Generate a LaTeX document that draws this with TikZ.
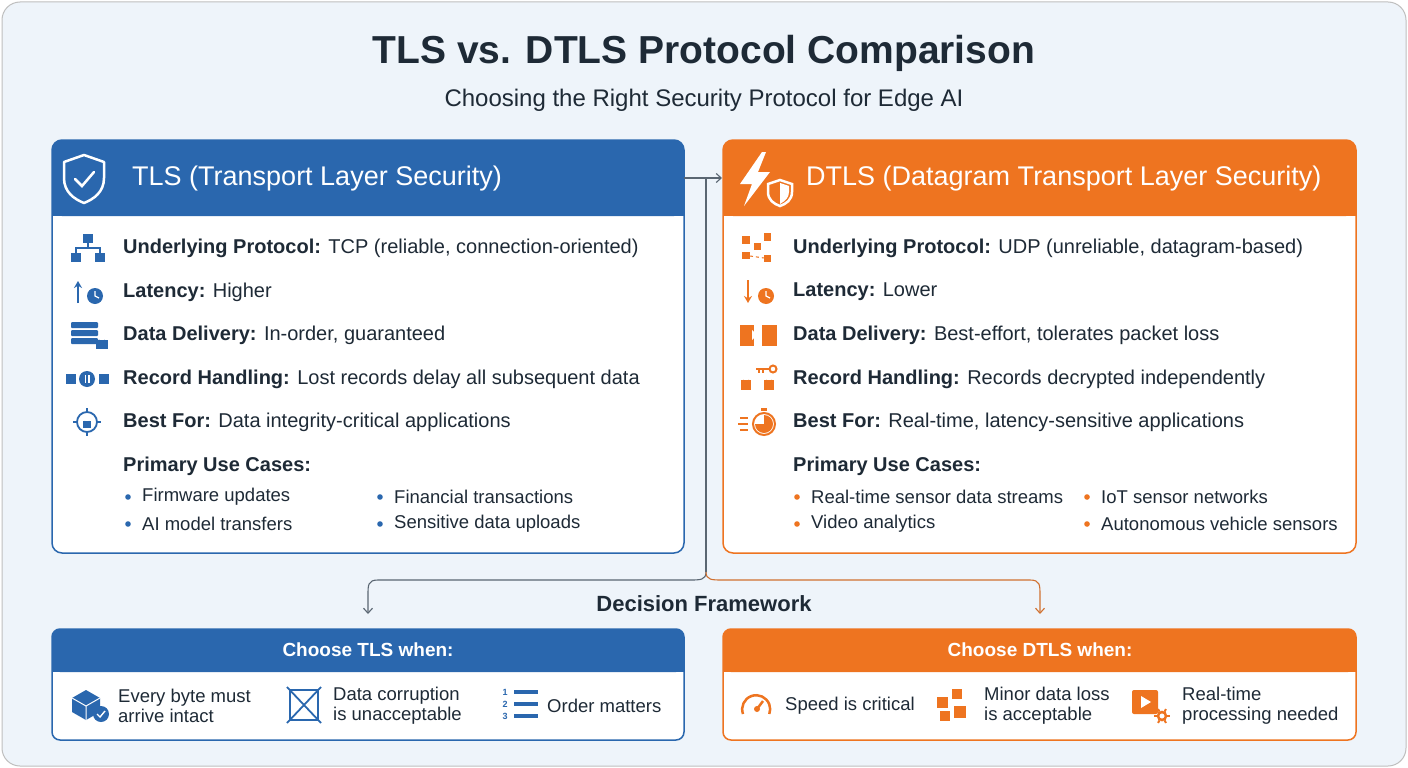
\documentclass[tikz,border=0pt]{standalone}
\usepackage{fontspec}
\setmainfont{Liberation Sans}
\usetikzlibrary{arrows.meta}
\definecolor{tb}{HTML}{2A67AE}
\definecolor{dor}{HTML}{EE7420}
\definecolor{bg}{HTML}{EEF4FA}
\definecolor{ink}{HTML}{1E2A36}
\definecolor{ln}{HTML}{5A6672}
\begin{document}
\begin{tikzpicture}[x=1pt,y=-1pt,
  txt/.style={anchor=west,inner sep=0,text=ink,font=\fontsize{20}{23}\selectfont},
  bul/.style={anchor=west,inner sep=0,text=ink,font=\fontsize{18.5}{21}\selectfont},
  two/.style={anchor=west,inner sep=0,text=ink,align=left,font=\fontsize{18.5}{20}\selectfont},
  hd/.style={anchor=west,inner sep=0,text=white,font=\fontsize{27}{30}\selectfont},
  sh/.style={anchor=center,inner sep=0,text=white,font=\bfseries\fontsize{19}{22}\selectfont},
  ib/.style={fill=tb,draw=none},
  io/.style={fill=dor,draw=none},
  arr/.style={draw=ln,line width=1.1pt,-{Straight Barb[length=5pt,width=9pt]}}]
\useasboundingbox (0,0) rectangle (1408,768);
\fill[white] (0,0) rectangle (1408,768);
\draw[fill=bg,draw=gray!50,line width=1pt,rounded corners=18] (2,2) rectangle (1406,766);
\node[inner sep=0,text=ink,font=\bfseries\fontsize{39}{42}\selectfont] (title) at (704,53) {TLS vs. DTLS Protocol Comparison};
\node[inner sep=0,text=ink,font=\fontsize{24}{28}\selectfont] (sub) at (704,100) {Choosing the Right Security Protocol for Edge AI};
% boxes
\draw[fill=white,draw=tb,line width=1.5pt,rounded corners=10] (52,140) rectangle (684,553);
\fill[tb,rounded corners=10] (52,140) rectangle (684,216);
\fill[tb] (52,200) rectangle (684,216);
\draw[fill=white,draw=dor,line width=1.5pt,rounded corners=10] (723,140) rectangle (1356,553);
\fill[dor,rounded corners=10] (723,140) rectangle (1356,216);
\fill[dor] (723,200) rectangle (1356,216);
\node[hd] (th) at (132,179) {TLS (Transport Layer Security)};
\node[hd] (dh) at (806,179) {DTLS (Datagram Transport Layer Security)};
% shield icon
\draw[white,line width=2.5pt,line join=round] (84,155) -- (104,162) -- (104,178) .. controls (104,192) and (94,199) .. (84,203) .. controls (74,199) and (64,192) .. (64,178) -- (64,162) -- cycle;
\draw[white,line width=2.5pt,line cap=round] (75,179) -- (82,186) -- (94,172);
% lightning + shield
\fill[white] (762,152) -- (740,184) -- (752,184) -- (744,206) -- (770,172) -- (758,172) -- (766,152) -- cycle;
\draw[white,line width=2.5pt] (780,180) -- (792,184) -- (792,192) .. controls (792,200) and (786,204) .. (780,206) .. controls (774,204) and (768,200) .. (768,192) -- (768,184) -- cycle;
\fill[white] (780,183) -- (780,204) .. controls (785,201) and (789,198) .. (789,192) -- (789,186) -- cycle;
% TLS rows
\node[txt] (t1) at (123,248) {\textbf{Underlying Protocol:} TCP (reliable, connection-oriented)};
\node[txt] (t2) at (123,292) {\textbf{Latency:} Higher};
\node[txt] (t3) at (123,335) {\textbf{Data Delivery:} In-order, guaranteed};
\node[txt] (t4) at (123,379) {\textbf{Record Handling:} Lost records delay all subsequent data};
\node[txt] (t5) at (123,422) {\textbf{Best For:} Data integrity-critical applications};
\node[txt] (t6) at (123,466) {\textbf{Primary Use Cases:}};
\foreach \x/\y/\s in {128/497/Firmware updates,128/524/AI model transfers,380/497/Financial transactions,380/524/Sensitive data uploads}{
  \fill[tb] (\x,\y) circle (2.8);
  \node[bul] at (\x+14,\y) {\s};}
% TLS icons
\fill[ib] (83,234) rectangle (93,243); \fill[ib] (71,253) rectangle (81,262); \fill[ib] (95,253) rectangle (105,262);
\draw[tb,line width=1.5pt] (88,243) -- (88,248) (76,253) -- (76,248) -- (100,248) -- (100,253);
\draw[tb,line width=1.8pt,-{Stealth[length=7pt,width=8pt]}] (78,303) -- (78,281);
\fill[ib] (95,296) circle (8); \draw[white,line width=1.2pt] (95,291) -- (95,296) -- (99,298);
\foreach \yy in {322,330,338}{\fill[ib,rounded corners=1] (71,\yy) rectangle (98,\yy+6);}
\fill[ib] (96,340) rectangle (108,349); \draw[tb,line width=1.5pt] (99,340) arc (180:0:3);
\fill[ib] (66,374) rectangle (76,384); \fill[ib] (99,374) rectangle (109,384); \fill[ib] (87,379) circle (8);
\fill[white] (84.5,375) rectangle (86,383); \fill[white] (88,375) rectangle (89.5,383);
\draw[tb,line width=1.8pt] (87,422) circle (10); \draw[tb,line width=1.8pt] (87,408)--(87,413) (87,431)--(87,436) (73,422)--(78,422) (96,422)--(101,422);
\fill[ib] (83,421) rectangle (91,428); \draw[tb,line width=1.2pt] (84.5,421) arc (180:0:2.5);
% DTLS rows
\node[txt] (d1) at (793,248) {\textbf{Underlying Protocol:} UDP (unreliable, datagram-based)};
\node[txt] (d2) at (793,292) {\textbf{Latency:} Lower};
\node[txt] (d3) at (793,335) {\textbf{Data Delivery:} Best-effort, tolerates packet loss};
\node[txt] (d4) at (793,379) {\textbf{Record Handling:} Records decrypted independently};
\node[txt] (d5) at (793,422) {\textbf{Best For:} Real-time, latency-sensitive applications};
\node[txt] (d6) at (793,466) {\textbf{Primary Use Cases:}};
\foreach \x/\y/\s in {797/497/Real-time sensor data streams,797/524/Video analytics,1087/497/IoT sensor networks,1087/524/Autonomous vehicle sensors}{
  \fill[dor] (\x,\y) circle (2.8);
  \node[bul] at (\x+14,\y) {\s};}
% DTLS icons
\fill[io] (742,236) rectangle (750,244); \fill[io] (764,233) rectangle (771,241); \fill[io] (754,243) rectangle (761,250);
\fill[io] (742,252) rectangle (750,259); \fill[io] (764,255) rectangle (771,262);
\draw[dor,line width=1pt,dashed] (750,256) -- (764,258);
\draw[dor,line width=1.8pt,-{Stealth[length=7pt,width=8pt]}] (748,280) -- (748,303);
\fill[io] (766,296) circle (8); \draw[white,line width=1.2pt] (766,291) -- (766,296) -- (770,298);
\fill[io] (740,325) rectangle (754,346); \fill[io] (762,325) rectangle (777,346);
\fill[white] (752,330) -- (757,335) -- (752,340) -- cycle;
\fill[io] (741,380) rectangle (751,390); \draw[dor,line width=1.5pt] (743,380) arc (180:0:3);
\fill[io] (764,380) rectangle (774,390); \draw[dor,line width=1.5pt] (766,380) arc (180:0:3);
\draw[dor,line width=2pt] (773,369) circle (3.5); \draw[dor,line width=2pt] (769,369) -- (756,369) (759,369)--(759,373) (763,369)--(763,373);
\draw[dor,line width=2pt] (764,424) circle (11); \fill[io] (764,424) -- (764,415) arc (-90:180:9) -- cycle;
\fill[io] (761,408) rectangle (767,411);
\draw[dor,line width=1.5pt] (740,418)--(748,418) (738,424)--(748,424) (740,430)--(748,430);
% connectors
\coordinate (hubT) at (706,178);
\coordinate (hubB) at (706,572);
\draw[arr] (684,178) -- (722,178);
\draw[ln,line width=1.1pt] (hubT) -- (hubB);
\draw[arr] (hubB) .. controls (706,580) and (700,580) .. (690,580) -- (378,580) .. controls (368,580) and (368,585) .. (368,595) -- (368,614);
\draw[draw=dor!80!ln,line width=1.1pt,-{Straight Barb[length=5pt,width=9pt]}] (hubB) .. controls (706,580) and (712,580) .. (722,580) -- (1030,580) .. controls (1040,580) and (1040,585) .. (1040,595) -- (1040,614);
\node[inner sep=0,text=ink,font=\bfseries\fontsize{22}{26}\selectfont] (df) at (704,604) {Decision Framework};
% bottom boxes
\draw[fill=white,draw=tb,line width=1.5pt,rounded corners=8] (52,629) rectangle (684,740);
\fill[tb,rounded corners=8] (52,629) rectangle (684,672); \fill[tb] (52,662) rectangle (684,672);
\draw[fill=white,draw=dor,line width=1.5pt,rounded corners=8] (723,629) rectangle (1356,740);
\fill[dor,rounded corners=8] (723,629) rectangle (1356,672); \fill[dor] (723,662) rectangle (1356,672);
\node[sh] (ct) at (368,650) {Choose TLS when:};
\node[sh] (cd) at (1040,650) {Choose DTLS when:};
\node[two] (b1) at (118,706) {Every byte must\\arrive intact};
\node[two] (b2) at (333,706) {Data corruption\\is unacceptable};
\node[two] (b3) at (547,706) {Order matters};
\node[two] (b4) at (785,706) {Speed is critical};
\node[two] (b5) at (984,706) {Minor data loss\\is acceptable};
\node[two] (b6) at (1182,706) {Real-time\\processing needed};
% bottom icons
\fill[ib] (72,698) -- (86,690) -- (100,698) -- (100,712) -- (86,720) -- (72,712) -- cycle;
\draw[white,line width=1pt] (72,698) -- (86,706) -- (100,698) (86,706) -- (86,720);
\fill[ib] (101,714) circle (8); \draw[white,line width=1.4pt] (97,714) -- (100,717) -- (105,711);
\draw[tb,line width=1.6pt] (290,690) rectangle (318,720); \draw[tb,line width=1.8pt] (287,687) -- (321,723) (321,687) -- (287,723);
\foreach \yy/\n in {692/1,704/2,716/3}{\node[inner sep=0,text=tb,font=\bfseries\fontsize{9}{9}\selectfont] at (505,\yy) {\n}; \fill[ib] (514,\yy-2) rectangle (538,\yy+2);}
\draw[dor,line width=2.5pt] (743,714) arc (160:380:14); \draw[dor,line width=2.5pt] (757,709) -- (763,701); \fill[io] (757,709) circle (3);
\fill[io] (937,697) rectangle (948,708); \fill[io] (952,689) rectangle (962,699); \fill[io] (940,711) rectangle (950,721); \fill[io] (954,706) rectangle (966,718);
\fill[io,rounded corners=2] (1132,690) rectangle (1158,714); \fill[white] (1141,696) -- (1151,702) -- (1141,708) -- cycle;
\draw[dor,line width=2.5pt] (1162,716) circle (4); \foreach \a in {0,60,...,300}{\draw[dor,line width=2pt] (1162,716)++(\a:5) -- ++(\a:3);}
\end{tikzpicture}
\end{document}
